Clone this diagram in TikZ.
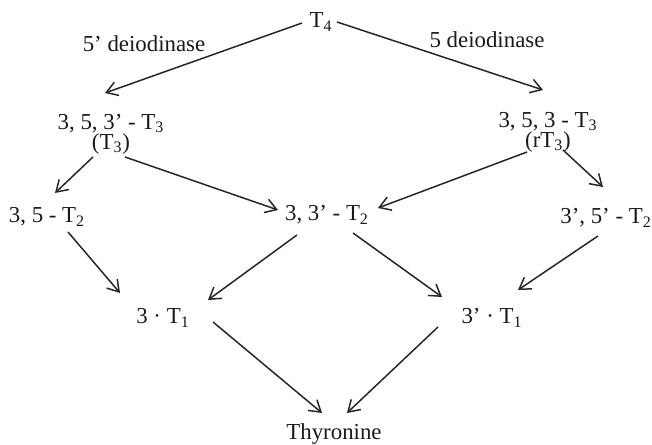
\documentclass[tikz,border=0pt]{standalone}
\usepackage{fontspec}
\setmainfont{Liberation Serif}
\usetikzlibrary{arrows.meta}

\newcommand{\Tn}[1]{T\textsubscript{#1}}

\begin{document}
\begin{tikzpicture}[
    every node/.style={font=\fontsize{13}{11.5}\selectfont, text=black!90},
    compound/.style={inner sep=0pt, align=center},
    enzyme/.style={inner sep=0pt},
    arrow/.style={-{Straight Barb[length=2.2mm, width=2.8mm]}, line width=0.85pt, black!85}
]

\useasboundingbox (0, 0) rectangle (13.04, 8.9);

% ============ TOP: T4 AND THE TWO ENZYMES ============
\node[compound] (T4) at (6.42, 8.46) {\Tn{4}};
\node[enzyme] (deio5p) at (2.88, 8.02) {5' deiodinase};
\node[enzyme] (deio5) at (9.74, 8.10) {5 deiodinase};

% ============ T3 ROW ============
\node[compound] (T3) at (2.22, 6.22) {3, 5, 3' - \Tn{3}\\(\Tn{3})};
\node[compound] (rT3) at (10.96, 6.26) {3, 5, 3 - \Tn{3}\\(r\Tn{3})};

% ============ T2 ROW ============
\node[compound] (T2a) at (0.94, 4.56) {3, 5 - \Tn{2}};
\node[compound] (T2b) at (6.54, 4.60) {3, 3' - \Tn{2}};
\node[compound] (T2c) at (12.12, 4.54) {3', 5' - \Tn{2}};

% ============ T1 ROW ============
\node[compound] (T1a) at (3.26, 2.54) {3 · \Tn{1}};
\node[compound] (T1b) at (9.84, 2.54) {3' · \Tn{1}};

% ============ BOTTOM ============
\node[compound] (thy) at (6.68, 0.22) {Thyronine};

% Arrows
\draw[arrow] ([shift={(-0.38,-0.02)}]T4.center) -- ([shift={(-0.12,0.82)}]T3.center);
\draw[arrow] ([shift={(0.32,0)}]T4.center) -- ([shift={(-0.10,0.84)}]rT3.center);

\draw[arrow] ([shift={(-0.36,-0.46)}]T3.center) -- ([shift={(0.16,0.48)}]T2a.center);
\draw[arrow] ([shift={(0.28,-0.46)}]T3.center) -- ([shift={(-0.98,0.10)}]T2b.center);
\draw[arrow] ([shift={(-0.42,-0.40)}]rT3.center) -- ([shift={(1.02,0.14)}]T2b.center);
\draw[arrow] ([shift={(0.30,-0.36)}]rT3.center) -- ([shift={(-0.06,0.62)}]T2c.center);

\draw[arrow] ([shift={(0.42,-0.30)}]T2a.center) -- ([shift={(-0.86,0.50)}]T1a.center);
\draw[arrow] ([shift={(-0.60,-0.40)}]T2b.center) -- ([shift={(0.90,0.36)}]T1a.center);
\draw[arrow] ([shift={(0.52,-0.36)}]T2b.center) -- ([shift={(-1.00,0.42)}]T1b.center);
\draw[arrow] ([shift={(-0.16,-0.36)}]T2c.center) -- ([shift={(0.52,0.56)}]T1b.center);

\draw[arrow] ([shift={(1.00,-0.08)}]T1a.center) -- ([shift={(-0.24,0.42)}]thy.center);
\draw[arrow] ([shift={(-1.08,-0.18)}]T1b.center) -- ([shift={(0.26,0.42)}]thy.center);

\end{tikzpicture}
\end{document}
